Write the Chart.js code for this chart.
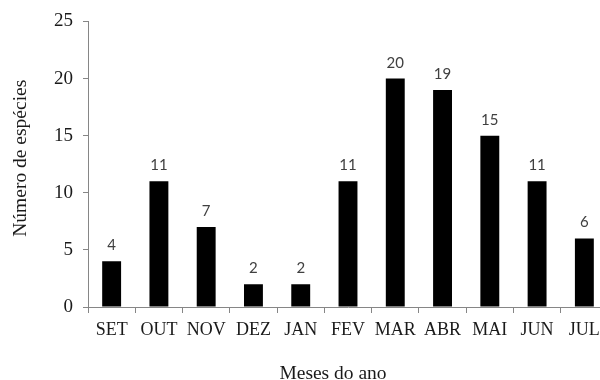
<!DOCTYPE html>
<html>
<head>
<meta charset="utf-8">
<script src="https://cdn.jsdelivr.net/npm/chart.js@4"></script>
<style>
  html, body { margin: 0; padding: 0; background: #fff; overflow: hidden; }
  #wrap { width: 612px; height: 380px; }
</style>
</head>
<body>
<div id="wrap"><canvas id="barChart" width="612" height="380"></canvas></div>
<script>
// Daten
const meses = ['SET', 'OUT', 'NOV', 'DEZ', 'JAN', 'FEV', 'MAR', 'ABR', 'MAI', 'JUN', 'JUL'];
const especies = [4, 11, 7, 2, 2, 11, 20, 19, 15, 11, 6];
const yTicks = [0, 5, 10, 15, 20, 25];
const xTitel = 'Meses do ano';
const yTitel = 'Número de espécies';

const serif = '"Liberation Serif", "Times New Roman", serif';
const axisColor = '#868686';
const textColor = '#1a1a1a';

// Werte über den Balken und Achsentitel zeichnen
const valueLabels = {
  id: 'valueLabels',
  afterDatasetsDraw(chart) {
    const ctx = chart.ctx;
    const meta = chart.getDatasetMeta(0);
    ctx.save();
    ctx.font = '15px Lato, "Open Sans", sans-serif';
    ctx.fillStyle = '#404040';
    ctx.textAlign = 'center';
    ctx.textBaseline = 'alphabetic';
    meta.data.forEach((bar, i) => {
      ctx.fillText(especies[i], bar.x, bar.y - 11);
    });
    ctx.restore();
  },
  afterDraw(chart) {
    const ctx = chart.ctx;
    const area = chart.chartArea;
    ctx.save();
    ctx.font = '19.5px ' + serif;
    ctx.fillStyle = textColor;
    ctx.textAlign = 'center';
    ctx.textBaseline = 'alphabetic';
    // x-Titel etwas links von der Mitte (Original ist rechts abgeschnitten)
    ctx.fillText(xTitel, area.left + 245, chart.height - 1);
    // y-Titel gedreht
    ctx.translate(26, (area.top + area.bottom) / 2 - 6);
    ctx.rotate(-Math.PI / 2);
    ctx.fillText(yTitel, 0, 0);
    ctx.restore();
  }
};

const ctx = document.getElementById('barChart').getContext('2d');
new Chart(ctx, {
  type: 'bar',
  data: {
    labels: meses,
    datasets: [{
      data: especies,
      backgroundColor: '#000',
      barPercentage: 0.4,
      categoryPercentage: 1.0
    }]
  },
  options: {
    responsive: false,
    animation: false,
    layout: { padding: { top: 21, right: 4, left: 0, bottom: 0 } },
    plugins: { legend: { display: false }, tooltip: { enabled: false } },
    scales: {
      x: {
        grid: { display: true, drawOnChartArea: false, tickLength: 6, color: axisColor, offset: true },
        border: { color: axisColor, width: 1 },
        ticks: { color: textColor, font: { family: serif, size: 18 }, padding: 6, maxRotation: 0, autoSkip: false },
        afterFit(scale) { scale.height = 73; }
      },
      y: {
        min: 0,
        max: 25,
        afterBuildTicks(scale) { scale.ticks = yTicks.map(v => ({ value: v })); },
        grid: { display: true, drawOnChartArea: false, tickLength: 5, color: axisColor },
        border: { color: axisColor, width: 1 },
        ticks: { color: textColor, font: { family: serif, size: 19 }, padding: 10 },
        afterFit(scale) { scale.width = 88; }
      }
    }
  },
  plugins: [valueLabels]
});
</script>
</body>
</html>
